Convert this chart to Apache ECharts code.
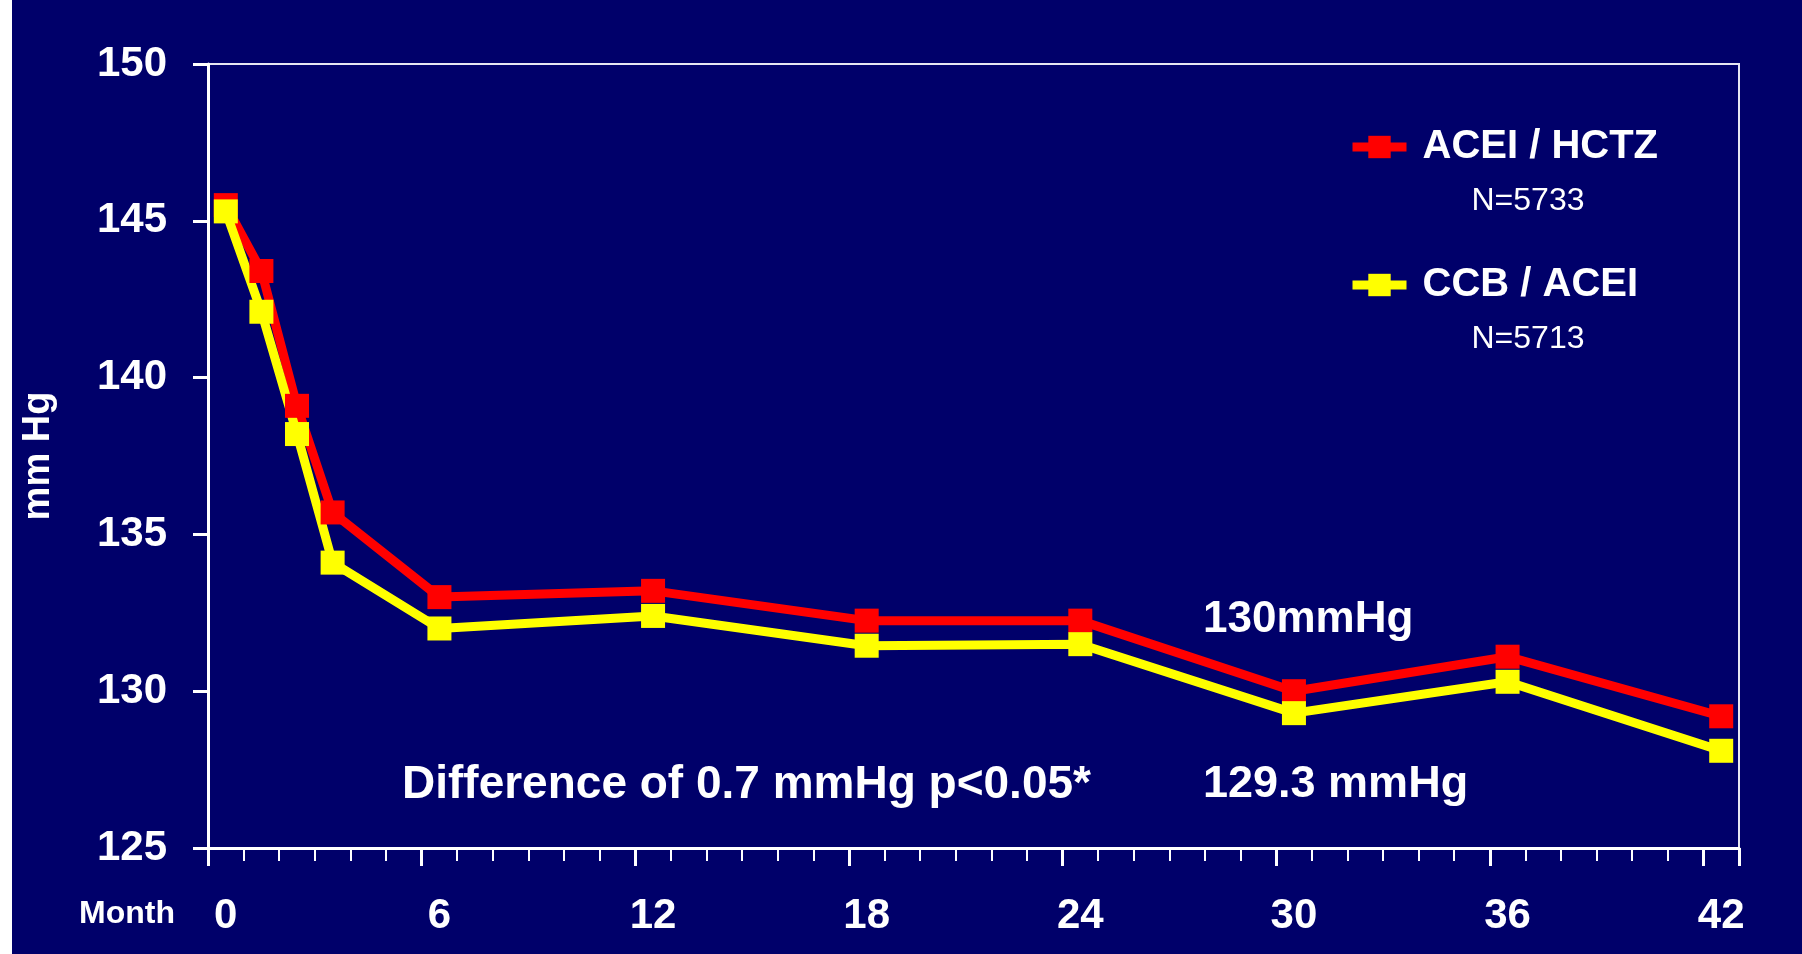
<!DOCTYPE html>
<html>
<head>
<meta charset="utf-8">
<title>Systolic blood pressure by treatment arm</title>
<script src="https://cdn.jsdelivr.net/npm/echarts@6/dist/echarts.min.js"></script>
<style>
  html, body { margin: 0; padding: 0; background: #ffffff; }
  #chart { width: 1802px; height: 954px; }
</style>
</head>
<body>
<div id="chart"></div>
<script>
// Month categories along the x axis (one band per month, 0..42)
const monthCategories = Array.from({ length: 43 }, (_, i) => String(i));
// Months at which blood pressure was measured
const visitMonths = [0, 1, 2, 3, 6, 12, 18, 24, 30, 36, 42];
// Mean systolic pressure (mm Hg) per visit
const aceiHctz = [145.5, 143.4, 139.1, 135.7, 133.0, 133.2, 132.25, 132.25, 130.0, 131.1, 129.2];
const ccbAcei  = [145.3, 142.1, 138.2, 134.1, 132.0, 132.4, 131.45, 131.5, 129.3, 130.3, 128.1];
const seriesNames = ['ACEI / HCTZ', 'CCB / ACEI'];
const groupSizes = ['N=5733', 'N=5713'];
const yMin = 125, yMax = 150, yStep = 5;
const xLabelEvery = 6;
const xTitle = 'Month';
const notes = {
  diff: 'Difference of 0.7 mmHg p<0.05*',
  red30: '130mmHg',
  yellow30: '129.3 mmHg'
};

const FONT = '"Liberation Sans", Arial, Helvetica, sans-serif';
const NAVY = '#00006a';
const WHITE = '#ffffff';

function pairs(values) {
  return visitMonths.map((m, i) => [String(m), values[i]]);
}

function legendFor(idx, top) {
  return {
    show: true,
    data: [seriesNames[idx]],
    left: 1348,
    top: top,
    padding: 0,
    orient: 'vertical',
    selectedMode: false,
    itemWidth: 54,
    itemHeight: 28,
    lineStyle: { width: 9 },
    formatter: name => '{sp| }\n{a|' + name + '}\n{b|' + groupSizes[idx] + '}',
    textStyle: {
      color: WHITE,
      fontFamily: FONT,
      rich: {
        sp: { fontSize: 32, lineHeight: 54 },
        a: { fontSize: 40, fontWeight: 'bold', lineHeight: 54, color: WHITE, fontFamily: FONT, padding: [0, 0, 0, 11] },
        b: { fontSize: 32, lineHeight: 54, color: WHITE, fontFamily: FONT, padding: [0, 0, 0, 60] }
      }
    }
  };
}

const chart = echarts.init(document.getElementById('chart'), null, { renderer: 'canvas' });

const option = {
  backgroundColor: NAVY,
  animation: false,
  grid: {
    left: 208, right: 63, top: 64, bottom: 106,
    containLabel: false,
    outerBoundsMode: 'none',
    show: true,
    borderColor: '#e6e6f2',
    borderWidth: 2,
    backgroundColor: 'transparent'
  },
  legend: [legendFor(0, 77), legendFor(1, 215)],
  xAxis: [
    {
      type: 'category',
      position: 'bottom',
      data: monthCategories,
      boundaryGap: true,
      axisLine: { lineStyle: { color: WHITE, width: 3 } },
      axisTick: { show: true, interval: 0, length: 13, lineStyle: { color: WHITE, width: 2 } },
      axisLabel: {
        interval: xLabelEvery - 1,
        color: WHITE, fontFamily: FONT, fontSize: 42, fontWeight: 'bold',
        margin: 47, lineHeight: 42
      },
      splitLine: { show: false }
    },
    {
      type: 'category',
      position: 'bottom',
      data: monthCategories,
      boundaryGap: true,
      axisLine: { show: false },
      axisTick: { show: true, interval: xLabelEvery - 1, length: 18, lineStyle: { color: WHITE, width: 3 } },
      axisLabel: { show: false },
      splitLine: { show: false }
    }
  ],
  yAxis: {
    type: 'value',
    min: yMin, max: yMax, interval: yStep,
    name: 'mm Hg',
    nameLocation: 'middle',
    nameGap: 150,
    nameTextStyle: { color: WHITE, fontFamily: FONT, fontSize: 38, fontWeight: 'bold' },
    axisLine: { show: true, lineStyle: { color: WHITE, width: 3 } },
    axisTick: { show: true, length: 15, lineStyle: { color: WHITE, width: 3 } },
    axisLabel: { color: WHITE, fontFamily: FONT, fontSize: 42, fontWeight: 'bold', margin: 41 },
    splitLine: { show: false }
  },
  series: [
    {
      name: seriesNames[0],
      type: 'line',
      data: pairs(aceiHctz),
      symbol: 'rect',
      symbolSize: 24,
      showSymbol: true,
      showAllSymbol: true,
      lineStyle: { color: '#ff0000', width: 9 },
      itemStyle: { color: '#ff0000' }
    },
    {
      name: seriesNames[1],
      type: 'line',
      data: pairs(ccbAcei),
      symbol: 'rect',
      symbolSize: 24,
      showSymbol: true,
      showAllSymbol: true,
      lineStyle: { color: '#ffff00', width: 9 },
      itemStyle: { color: '#ffff00' }
    }
  ],
  graphic: [
    { type: 'rect', left: 0, top: 0, shape: { width: 12, height: 954 }, style: { fill: WHITE }, silent: true },
    {
      type: 'text', x: 175, y: 914,
      style: { text: xTitle, fill: WHITE, font: 'bold 32px ' + FONT, align: 'right', verticalAlign: 'middle' }
    },
    {
      type: 'text', x: 1203, y: 620,
      style: { text: notes.red30, fill: WHITE, font: 'bold 44px ' + FONT, verticalAlign: 'middle' }
    },
    {
      type: 'text', x: 402, y: 785,
      style: { text: notes.diff, fill: WHITE, font: 'bold 46px ' + FONT, verticalAlign: 'middle' }
    },
    {
      type: 'text', x: 1203, y: 785,
      style: { text: notes.yellow30, fill: WHITE, font: 'bold 45px ' + FONT, verticalAlign: 'middle' }
    }
  ]
};

chart.setOption(option);
</script>
</body>
</html>
